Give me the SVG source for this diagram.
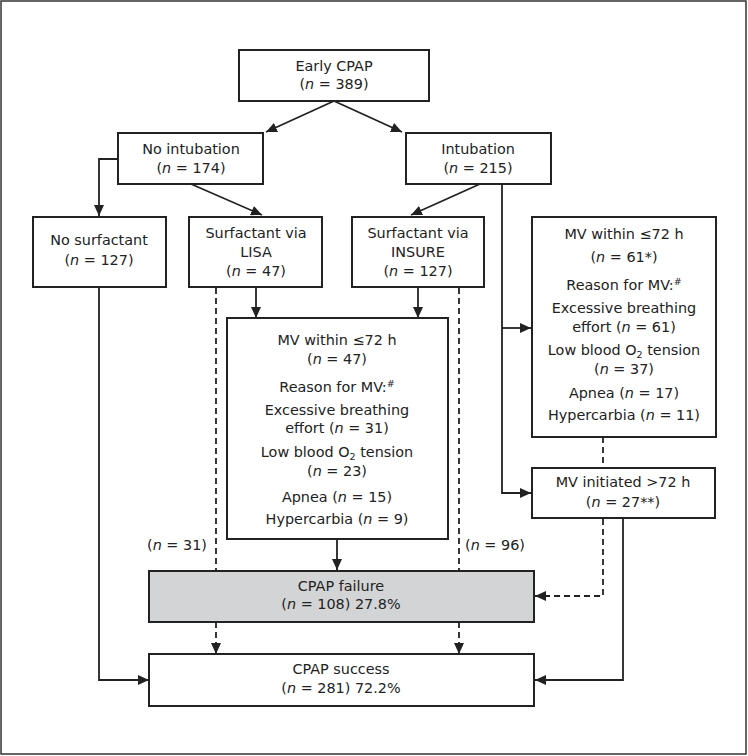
<svg xmlns="http://www.w3.org/2000/svg" width="748" height="756" viewBox="0 0 748 756">
<defs>
<style>
.box{fill:#fff;stroke:#222;stroke-width:2}
.fail{fill:#d3d4d6;stroke:#222;stroke-width:2}
.t{font-family:"DejaVu Sans","Open Sans","Liberation Sans",sans-serif;font-size:14.4px;fill:#222;text-anchor:middle}
.c{fill:none;stroke:#222;stroke-width:1.8}
.d{fill:none;stroke:#222;stroke-width:1.8;stroke-dasharray:6 4}
.i{font-style:italic}
.sub{font-size:9.5px}
</style>
<marker id="ah" markerUnits="userSpaceOnUse" markerWidth="11" markerHeight="10" viewBox="0 0 11 10" refX="11" refY="5" orient="auto">
<path d="M0,0 L11,5 L0,10 z" fill="#222"/>
</marker>
</defs>
<rect x="1" y="1" width="745" height="753" fill="#fff" stroke="#333" stroke-width="1.5"/>

<g id="connectors">
<path class="c" d="M334,101 L266,132" marker-end="url(#ah)"/>
<path class="c" d="M334,101 L402,132" marker-end="url(#ah)"/>
<path class="c" d="M118,159 L99,159 L99,216" marker-end="url(#ah)"/>
<path class="c" d="M191,184 L262,215" marker-end="url(#ah)"/>
<path class="c" d="M480,184 L411,215" marker-end="url(#ah)"/>
<path class="c" d="M502,184 L502,493 L531,493" marker-end="url(#ah)"/>
<path class="c" d="M502,328 L531,328" marker-end="url(#ah)"/>
<path class="c" d="M256,287 L256,318" marker-end="url(#ah)"/>
<path class="c" d="M418,287 L418,318" marker-end="url(#ah)"/>
<path class="d" d="M216,288 L216,570"/>
<path class="d" d="M459,288 L459,570"/>
<path class="c" d="M337,539 L337,570" marker-end="url(#ah)"/>
<path class="d" d="M216,622 L216,654" marker-end="url(#ah)"/>
<path class="d" d="M459,622 L459,654" marker-end="url(#ah)"/>
<path class="d" d="M603,437 L603,468"/>
<path class="d" d="M603,519 L603,596 L535,596" marker-end="url(#ah)"/>
<path class="c" d="M623,519 L623,680 L535,680" marker-end="url(#ah)"/>
<path class="c" d="M99,287 L99,680 L149,680" marker-end="url(#ah)"/>
<text class="t" x="177" y="550">(<tspan class="i">n</tspan> = 31)</text>
<text class="t" x="495" y="550">(<tspan class="i">n</tspan> = 96)</text>
</g>

<g id="early">
<rect class="box" x="239" y="50" width="190" height="51"/>
<text class="t" x="334" y="71">Early CPAP<tspan x="334" dy="18">(</tspan><tspan class="i">n</tspan> = 389)</text>
</g>
<g id="nointubation">
<rect class="box" x="118" y="133" width="145" height="51"/>
<text class="t" x="191" y="154">No intubation<tspan x="191" dy="19">(</tspan><tspan class="i">n</tspan> = 174)</text>
</g>
<g id="intubation">
<rect class="box" x="406" y="133" width="145" height="51"/>
<text class="t" x="478" y="154">Intubation<tspan x="478" dy="19">(</tspan><tspan class="i">n</tspan> = 215)</text>
</g>
<g id="nosurfactant">
<rect class="box" x="33" y="217" width="133" height="70"/>
<text class="t" x="99" y="245">No surfactant<tspan x="99" dy="20">(</tspan><tspan class="i">n</tspan> = 127)</text>
</g>
<g id="lisa">
<rect class="box" x="189" y="217" width="133" height="70"/>
<text class="t" x="256" y="238">Surfactant via<tspan x="256" dy="19">LISA</tspan><tspan x="256" dy="19">(</tspan><tspan class="i">n</tspan> = 47)</text>
</g>
<g id="insure">
<rect class="box" x="352" y="217" width="132" height="70"/>
<text class="t" x="418" y="238">Surfactant via<tspan x="418" dy="19">INSURE</tspan><tspan x="418" dy="19">(</tspan><tspan class="i">n</tspan> = 127)</text>
</g>
<g id="mvmiddle">
<rect class="box" x="227" y="318" width="221" height="221"/>
<text class="t" x="337" y="345">MV within ≤72 h<tspan x="337" dy="19">(</tspan><tspan class="i">n</tspan> = 47)<tspan x="337" dy="28">Reason for MV:</tspan><tspan dy="-5" class="sub">#</tspan><tspan x="337" dy="28">Excessive breathing</tspan><tspan x="337" dy="18">effort (</tspan><tspan class="i">n</tspan> = 31)<tspan x="337" dy="24">Low blood O</tspan><tspan dy="3" class="sub">2</tspan><tspan dy="-3"> tension</tspan><tspan x="337" dy="19">(</tspan><tspan class="i">n</tspan> = 23)<tspan x="337" dy="26">Apnea (</tspan><tspan class="i">n</tspan> = 15)<tspan x="337" dy="22">Hypercarbia (</tspan><tspan class="i">n</tspan> = 9)</text>
</g>
<g id="mvright">
<rect class="box" x="532" y="217" width="184" height="220"/>
<text class="t" x="624" y="239">MV within ≤72 h<tspan x="624" dy="23">(</tspan><tspan class="i">n</tspan> = 61*)<tspan x="624" dy="28">Reason for MV:</tspan><tspan dy="-5" class="sub">#</tspan><tspan x="624" dy="28">Excessive breathing</tspan><tspan x="624" dy="19">effort (</tspan><tspan class="i">n</tspan> = 61)<tspan x="624" dy="23">Low blood O</tspan><tspan dy="3" class="sub">2</tspan><tspan dy="-3"> tension</tspan><tspan x="624" dy="19">(</tspan><tspan class="i">n</tspan> = 37)<tspan x="624" dy="24">Apnea (</tspan><tspan class="i">n</tspan> = 17)<tspan x="624" dy="22">Hypercarbia (</tspan><tspan class="i">n</tspan> = 11)</text>
</g>
<g id="mvinitiated">
<rect class="box" x="532" y="468" width="183" height="50"/>
<text class="t" x="623" y="487">MV initiated &gt;72 h<tspan x="623" dy="20">(</tspan><tspan class="i">n</tspan> = 27**)</text>
</g>
<g id="failure">
<rect class="fail" x="149" y="571" width="385" height="51"/>
<text class="t" x="341" y="591">CPAP failure<tspan x="341" dy="18">(</tspan><tspan class="i">n</tspan> = 108) 27.8%</text>
</g>
<g id="success">
<rect class="box" x="149" y="654" width="385" height="52"/>
<text class="t" x="341" y="674">CPAP success<tspan x="341" dy="19">(</tspan><tspan class="i">n</tspan> = 281) 72.2%</text>
</g>
</svg>
